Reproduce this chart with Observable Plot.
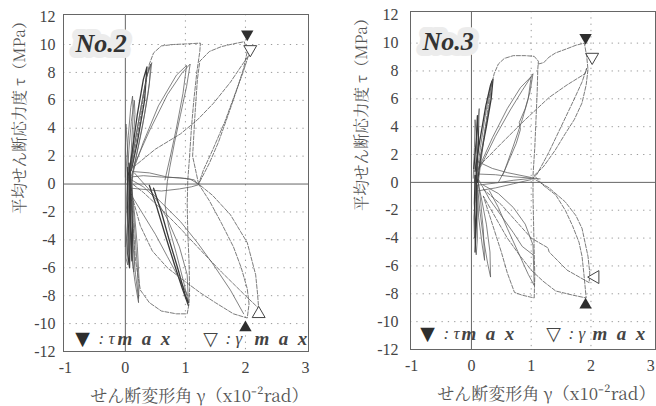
<!DOCTYPE html>
<html><head><meta charset="utf-8">
<script src="https://cdn.jsdelivr.net/npm/d3@7"></script>
<script src="https://cdn.jsdelivr.net/npm/@observablehq/plot@0.6"></script>
<style>
body{margin:0;background:#fff;}
#wrap{display:flex;width:656px;height:406px;overflow:hidden;}
#wrap svg{display:block;}
</style></head><body><div id="wrap"></div>
<script>
// ---- shared axis content ----
const xTicks = [-1, 0, 1, 2, 3];
const yTicks = [-12, -10, -8, -6, -4, -2, 0, 2, 4, 6, 8, 10, 12];
const gridY = [-10, -8, -6, -4, -2, 2, 4, 6, 8, 10];
const gridX = [1, 2];
const xLabel = "せん断変形角 γ（x10⁻²rad）";
const yLabel = "平均せん断応力度 τ（MPa）";
const panelNames = ["No.2", "No.3"];
const legendSymbols = ["▼", "▽"];
const legendVars = [": τ", ": γ"];
const legendWord = "m\u2002a\u2002x";

// ---- No.2 : hysteresis curves [γ (x10^-2 rad), τ (MPa)] ----
const no2Solid = [
  [[0,0],[0.02,1.5],[0.05,3.5],[0.09,5.5],[0.12,6.3],[0.13,5],[0.1,2.5],[0.07,0.3],[0.04,-2],[0.02,-4],[0.01,-5.3],[0.04,-5.8],[0.06,-4],[0.07,-1.5],[0.05,0.5]],
  [[0.03,0.3],[0.06,2.5],[0.1,4.5],[0.15,6.0],[0.16,5],[0.13,3],[0.09,0.8],[0.07,-1],[0.08,-3],[0.11,-5],[0.14,-6.3],[0.15,-5],[0.12,-2],[0.08,0.2]],
  [[0,0.5],[0,2.5],[0.01,4.3],[0.03,3],[0.05,1],[0.03,-1],[0,-3],[0,-4.5],[0.03,-3.5],[0.06,-1],[0.06,0.5]],
  [[0.05,0.2],[0.12,2],[0.2,4],[0.28,6],[0.35,7.6],[0.42,8.6],[0.4,7.2],[0.32,5],[0.22,2.8],[0.12,0.8],[0.1,-1.5],[0.12,-4],[0.17,-6.5],[0.22,-8.2],[0.23,-7],[0.2,-4.5],[0.15,-2],[0.1,0]],
  [[0.08,0.8],[0.16,3],[0.26,5.5],[0.36,7.8],[0.44,8.7],[0.38,6.5],[0.28,4],[0.16,1.5],[0.1,0]],
  [[0.1,-0.3],[0.08,-2.5],[0.1,-5],[0.16,-7],[0.22,-8.5],[0.2,-6],[0.16,-3.5],[0.12,-1],[0.1,0.5]],
  [[0.13,1.2],[0.4,3.8],[0.7,6.4],[0.95,8.0],[1.08,8.6],[1.02,7],[0.92,5],[0.82,3],[0.74,1.2],[0.7,0.2],[0.66,-1.5],[0.72,-3],[0.85,-5],[0.97,-7],[1.05,-8.5],[1.03,-6.5],[0.9,-4.5],[0.7,-2.5],[0.5,-1],[0.3,-0.2],[0.1,0.3]],
  [[0.1,0.6],[0.3,3],[0.55,5.6],[0.85,7.8],[1.02,8.5],[0.96,6.5],[0.85,4],[0.75,2],[0.66,0.3]],
  [[0.08,0.5],[0.3,0.6],[0.6,0.5],[0.9,0.45],[1.08,0.35],[1.22,0]],
  [[0.1,-0.3],[0.35,-0.4],[0.6,-0.5],[0.9,-0.35],[1.1,-0.2],[1.22,-0.05]],
  [[0.12,0.9],[0.4,0.8],[0.7,0.5],[1.0,0.4],[1.15,0.3],[1.2,0]],
  [[0.15,0.8],[0.5,-0.9],[0.92,-2.7],[1.2,-4.2],[1.47,-5.8],[1.75,-7.6],[1.97,-9.3]],
  [[0.1,-0.8],[0.3,-2.2],[0.5,-3.6],[0.7,-5.2],[0.9,-6.8],[1.04,-8.0]]
];
const no2Bold = [
  [[0.4,-0.1],[0.52,-1.6],[0.66,-3.6],[0.82,-5.8],[0.95,-7.5],[1.05,-8.7]],
  [[0.47,-0.3],[0.6,-2.0],[0.73,-4],[0.87,-6],[1.0,-8],[1.05,-8.5]],
  [[0.04,1.2],[0.03,-1],[0.05,-3],[0.04,-5],[0.07,-6],[0.08,-3],[0.07,-1],[0.08,1]],
  [[0.06,1.5],[0.09,0],[0.08,-2],[0.1,-4],[0.11,-5.5],[0.12,-3],[0.1,-0.5],[0.05,0.8]],
  [[0.06,0.8],[0.12,2.5],[0.2,5],[0.3,7.5],[0.36,8.4],[0.32,6],[0.2,3],[0.1,1]]
];
const no2Dashed = [
  [[0.1,1],[0.18,3],[0.26,5],[0.33,7],[0.4,8.6],[0.47,9.4],[0.6,9.9],[0.8,10.0],[1.05,10.05],[1.25,10.1],[1.24,9.5],[1.19,8],[1.14,6],[1.1,4],[1.07,2],[1.04,0.3],[1.03,-1.5],[1.04,-3.5],[1.06,-5.5],[1.07,-7.5],[1.06,-8.6],[1.03,-9.3],[0.85,-9.3],[0.6,-9.1],[0.4,-8.5],[0.25,-7.6],[0.17,-5.5],[0.13,-3],[0.1,-0.5]],
  [[1.22,0],[1.12,2],[1.16,5],[1.2,7.5],[1.24,8.8],[1.4,9.5],[1.6,9.85],[1.8,10.05],[1.98,10.2],[2.03,9.5],[1.97,8.3],[1.86,6.8],[1.7,4.8],[1.55,3],[1.4,1.5],[1.22,0],[1.4,-1.2],[1.6,-2.8],[1.8,-4.5],[1.93,-6],[2.03,-7.5],[2.06,-8.6],[2.03,-9.6],[1.8,-9.3],[1.5,-8.5],[1.25,-7.8],[1.0,-7.0],[0.7,-6],[0.45,-4.8],[0.25,-3],[0.12,-1]],
  [[0.13,1.2],[0.5,2.5],[0.92,3.6],[1.2,4.6],[1.47,5.8],[1.75,7.3],[1.97,8.7],[2.05,9.2],[1.96,8],[1.83,6.5],[1.66,4.5],[1.46,2.5],[1.3,1],[1.22,0],[1.45,-0.8],[1.75,-2.2],[2.03,-4.2],[2.17,-6.5],[2.2,-7.8],[2.22,-8.9],[2.0,-8],[1.6,-6.3],[1.2,-4.5],[0.92,-3.2],[0.6,-1.8],[0.3,-0.6],[0.12,0]]
];
const no2Peaks = [
  {g: 2.03, t: 10.75, kind: "tmax", up: false},
  {g: 2.08, t: 9.65, kind: "gmax", up: false},
  {g: 2.0, t: -10.3, kind: "tmax", up: true},
  {g: 2.22, t: -9.3, kind: "gmax", up: true}
];

// ---- No.3 ----
const no3Solid = [
  [[0.05,0],[0.08,2],[0.1,4],[0.13,5.3],[0.12,3.5],[0.09,1],[0.06,-1.5],[0.05,-3.5],[0.08,-5.2],[0.1,-4],[0.09,-1.5],[0.07,0.5]],
  [[0.08,0.3],[0.15,2.5],[0.22,4.5],[0.3,6.5],[0.34,7.3],[0.3,5.5],[0.22,3.5],[0.15,1.2],[0.1,-0.5],[0.12,-2.5],[0.18,-4.5],[0.22,-5.6],[0.2,-3.5],[0.15,-1.2],[0.1,0.5]],
  [[0.1,-0.2],[0.14,-2],[0.2,-4],[0.27,-5.8],[0.32,-6.8],[0.31,-5],[0.25,-3],[0.16,-1],[0.1,0.2]],
  [[0.03,0.3],[0.05,2.5],[0.06,4.5],[0.09,3],[0.1,1],[0.07,-1],[0.04,-2.5],[0.05,-4],[0.08,-3],[0.09,-0.5]],
  [[0.15,1.1],[0.4,3.3],[0.65,5.2],[0.85,6.6],[1.03,7.8],[0.98,6.5],[0.9,5.3],[0.8,4.3],[0.82,3.8],[0.75,2.8],[0.62,1.5],[0.52,0.5]],
  [[0.1,0.8],[0.35,3.2],[0.6,5.3],[0.82,6.8],[1.0,7.6],[0.95,6],[0.85,4.5],[0.7,2.6],[0.55,0.8],[0.45,0]],
  [[0.3,-0.6],[0.45,-1.8],[0.6,-3.3],[0.78,-5],[0.95,-6.6],[1.05,-7.4],[1.04,-6],[1.03,-4.5],[0.9,-3],[0.7,-1.8],[0.45,-0.8],[0.2,-0.2]],
  [[0.1,-0.2],[0.4,-0.05],[0.7,0.15],[1.03,0.3]],
  [[0.1,0.6],[0.4,0.55],[0.7,0.4],[1.03,0.3],[1.15,0.25]],
  [[0.12,-0.6],[0.4,-0.4],[0.7,-0.1],[1.0,0.2]],
  [[0.1,1.5],[0.35,1.0],[0.6,0.7],[1.0,0.35]],
  [[0.12,0.2],[0.3,-1.2],[0.5,-2.4],[0.7,-3.6],[0.85,-4.6],[1.03,-5.2]]
];
const no3Dashed = [
  [[0.1,0.5],[0.18,2.5],[0.25,4.5],[0.31,6.5],[0.38,7.8],[0.45,8.5],[0.55,8.9],[0.7,9.1],[0.9,9.1],[1.05,9.05],[1.12,8.7],[1.11,8.1],[1.1,6.5],[1.08,4.5],[1.06,2.5],[1.03,0.5],[1.03,-1],[1.04,-3],[1.05,-5],[1.06,-6.7],[1.05,-8.3],[0.85,-8.1],[0.72,-7.9],[0.6,-6.5],[0.5,-5],[0.35,-3],[0.2,-1]],
  [[1.12,8.5],[1.21,8.6],[1.3,9.0],[1.41,9.3],[1.6,9.6],[1.75,9.85],[1.89,10.0],[1.93,9.0],[1.95,8.1],[1.92,7],[1.85,5.7],[1.72,4.5],[1.57,3.5],[1.4,2.3],[1.2,1.1],[1.05,0.5],[1.2,-0.2],[1.41,-0.9],[1.57,-2],[1.69,-3.1],[1.8,-4.3],[1.85,-5.3],[1.88,-6.5],[1.9,-7.4],[1.92,-8.3],[1.7,-8.1],[1.41,-7.8],[1.2,-7.1],[1.0,-6.3],[0.8,-5.2],[0.6,-4],[0.4,-2.5],[0.2,-1]],
  [[0.18,1.4],[0.5,2.8],[0.9,4.5],[1.3,6.1],[1.6,7.0],[1.9,7.8],[1.93,8.2],[1.85,7.2],[1.7,5.8],[1.5,4.0],[1.3,2.2],[1.1,0.6],[1.03,0.3],[1.3,-0.4],[1.57,-1.4],[1.75,-2.4],[1.85,-3.3],[1.95,-5.3],[1.98,-6.5],[1.97,-7.2],[1.6,-6.3],[1.3,-5],[1.28,-4.7],[1.0,-4],[0.75,-2.8],[0.5,-1.6],[0.2,-0.5]]
];
const no3Bold = [
  [[0.06,0.5],[0.05,-1.5],[0.07,-3.5],[0.06,-5],[0.09,-2],[0.08,0.5]],
  [[0.06,0.8],[0.14,3],[0.24,5.5],[0.32,7],[0.36,7.4],[0.33,6],[0.25,4],[0.16,2],[0.1,0]],
  [[0.04,1],[0.08,3],[0.1,4.8],[0.12,3],[0.08,0.5]]
];
const no3Peaks = [
  {g: 1.91, t: 10.4, kind: "tmax", up: false},
  {g: 2.02, t: 9.0, kind: "gmax", up: false},
  {g: 1.91, t: -8.8, kind: "tmax", up: true},
  {g: 2.07, t: -6.8, kind: "gmax", left: true}
];

// ---- build long tables ----
const toRows = (curves) => curves.flatMap((c, i) => c.map(([g, t]) => ({id: i, g, t})));

const panels = [
  {name: panelNames[0], solid: no2Solid, bold: no2Bold, dashed: no2Dashed, peaks: no2Peaks,
   w: 328, ml: 63, mr: 20, mt: 14, mb: 55, xd: [-1.03, 3.05], yd: [-12, 12.15], yPad: 8,
   ylx: -43, leg: {dy: -13, s1: 19, c1: 35, m1: 54, s2: 147, c2: 162, m2: 191}, tag: {dx: 12, dy: 29}},
  {name: panelNames[1], solid: no3Solid, bold: no3Bold, dashed: no3Dashed, peaks: no3Peaks,
   w: 328, ml: 82, mr: 1, mt: 11, mb: 57, xd: [-1.02, 3.08], yd: [-12, 12.27], yPad: 12,
   ylx: -48, leg: {dy: -16, s1: 17, c1: 33, m1: 51, s2: 143, c2: 158, m2: 182}, tag: {dx: 12, dy: 30}}
];

const ink = "#444";
const SERIF = "Liberation Serif";
const MINCHO = "Noto Serif CJK JP";
const SYM = "DejaVu Sans";

for (const p of panels) {
  const txt = (s, o) => Plot.text([s], {text: d => d, frameAnchor: "bottom-left", lineAnchor: "middle", textAnchor: "start", fill: ink, fontFamily: SERIF, ...o});
  const chart = Plot.plot({
    width: p.w, height: 406,
    marginLeft: p.ml, marginRight: p.mr, marginTop: p.mt, marginBottom: p.mb,
    x: {domain: p.xd}, y: {domain: p.yd},
    style: {fontFamily: SERIF, fontSize: "15px", color: "#444", background: "white", overflow: "visible"},
    marks: [
      Plot.ruleY(gridY, {stroke: "#9a9a9a", strokeDasharray: "1.3,5", strokeWidth: 1}),
      Plot.ruleX(gridX, {stroke: "#9a9a9a", strokeDasharray: "1.3,5", strokeWidth: 1}),
      Plot.ruleY([0], {stroke: "#555", strokeWidth: 0.9}),
      Plot.ruleX([0], {stroke: "#555", strokeWidth: 0.9}),
      Plot.frame({stroke: "#666", strokeWidth: 1}),
      Plot.axisX(xTicks, {tickSize: 0, tickPadding: 10, tickFormat: d => String(d), fontSize: 16, fontFamily: SERIF, label: null, fill: "#444"}),
      Plot.axisY(yTicks, {tickSize: 0, tickPadding: p.yPad, tickFormat: d => String(d), fontSize: 16, fontFamily: SERIF, label: null, fill: "#444"}),
      Plot.line(toRows(p.solid), {x: "g", y: "t", z: "id", stroke: "#5a5a5a", strokeWidth: 0.75}),
      Plot.line(toRows(p.bold), {x: "g", y: "t", z: "id", stroke: "#3a3a3a", strokeWidth: 1.3}),
      Plot.line(toRows(p.dashed), {x: "g", y: "t", z: "id", stroke: "#5a5a5a", strokeWidth: 0.8, strokeDasharray: "4,1.6"}),
      Plot.dot(p.peaks.filter(d => d.kind === "tmax"), {x: "g", y: "t", symbol: "triangle", r: 4.6, fill: "#2e2e2e", stroke: "none", rotate: d => d.up ? 0 : 180}),
      Plot.dot(p.peaks.filter(d => d.kind === "gmax"), {x: "g", y: "t", symbol: "triangle", r: 4.8, fill: "white", stroke: "#444", strokeWidth: 1, rotate: d => d.left ? -90 : (d.up ? 0 : 180)}),
      // panel tag
      Plot.text([p.name], {text: d => d, frameAnchor: "top-left", dx: p.tag.dx, dy: p.tag.dy, textAnchor: "start", lineAnchor: "middle",
        fontSize: 26, fontWeight: "bold", fontStyle: "italic", fontFamily: SERIF, fill: "#333", stroke: "#ececec", strokeWidth: 12, paintOrder: "stroke"}),
      // legend
      txt(legendSymbols[0], {dx: p.leg.s1, dy: p.leg.dy, textAnchor: "middle", fontSize: 19, fontFamily: SYM, fill: "#2e2e2e"}),
      txt(legendVars[0], {dx: p.leg.c1, dy: p.leg.dy, fontSize: 17, fontStyle: "italic"}),
      txt(legendWord, {dx: p.leg.m1, dy: p.leg.dy, fontSize: 19, fontStyle: "italic", fontWeight: "bold"}),
      txt(legendSymbols[1], {dx: p.leg.s2, dy: p.leg.dy, textAnchor: "middle", fontSize: 19, fontFamily: SYM, fill: "#444"}),
      txt(legendVars[1], {dx: p.leg.c2, dy: p.leg.dy, fontSize: 17, fontStyle: "italic"}),
      txt(legendWord, {dx: p.leg.m2, dy: p.leg.dy, fontSize: 19, fontStyle: "italic", fontWeight: "bold"}),
      // axis titles
      Plot.text([yLabel], {text: d => d, frameAnchor: "top-left", dx: p.ylx, dy: -1, rotate: -90, textAnchor: "end", lineAnchor: "middle",
        fontSize: 15.5, fontFamily: MINCHO, fill: "#555"}),
      Plot.text([xLabel], {text: d => d, frameAnchor: "bottom-right", dx: 0, dy: 45, textAnchor: "end", lineAnchor: "middle",
        fontSize: 17, fontFamily: MINCHO, fill: "#555"})
    ]
  });
  document.getElementById("wrap").appendChild(chart);
}
</script></body></html>
